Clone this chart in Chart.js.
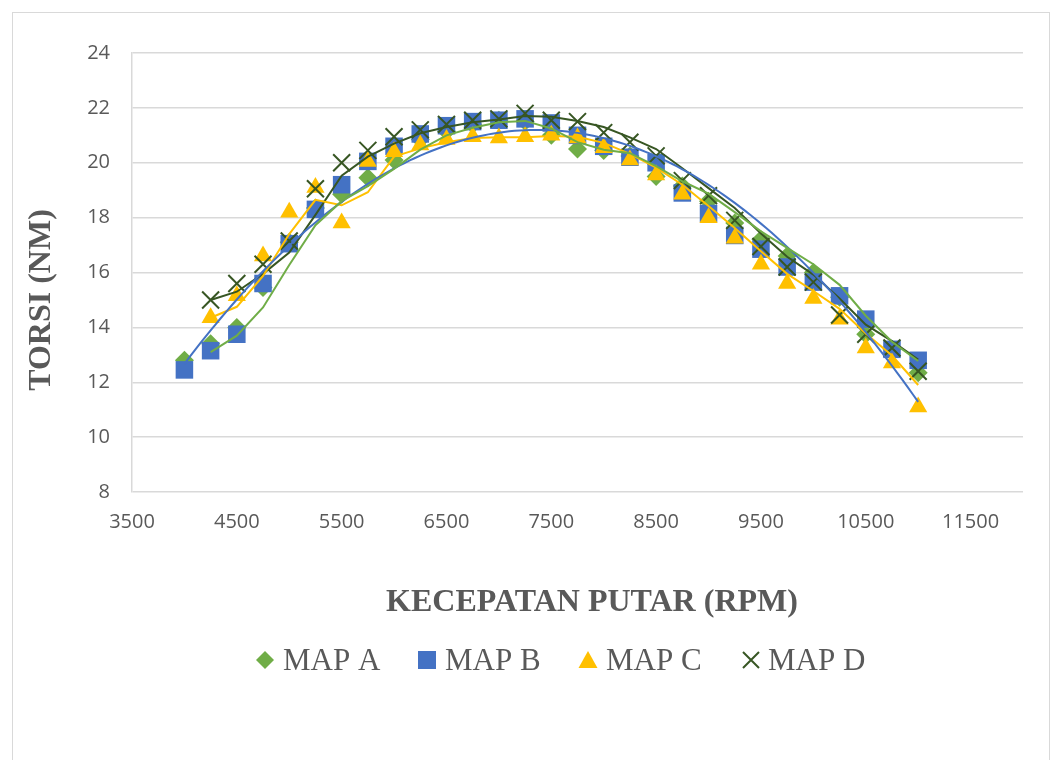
<!DOCTYPE html>
<html>
<head>
<meta charset="utf-8">
<title>Torsi vs Kecepatan Putar</title>
<script src="https://cdn.jsdelivr.net/npm/chart.js@4.4.0/dist/chart.umd.min.js"></script>
<style>
  html, body { margin: 0; padding: 0; background: #ffffff; }
  #wrap { width: 1062px; height: 760px; }
</style>
</head>
<body>
<div id="wrap"><canvas id="chart" width="1062" height="760"></canvas></div>
<script>
// Engine speed (rpm) and measured torque (N·m) for each ignition map
const rpm = [4000, 4250, 4500, 4750, 5000, 5250, 5500, 5750, 6000, 6250, 6500, 6750, 7000, 7250,
             7500, 7750, 8000, 8250, 8500, 8750, 9000, 9250, 9500, 9750, 10000, 10250, 10500, 10750, 11000];

const mapA = [12.8, 13.4, 14.0, 15.45, 17.1, 18.35, 18.85, 19.45, 20.1, 20.85, 21.15, 21.4, 21.55, 21.5,
              21.0, 20.5, 20.45, 20.25, 19.5, 19.15, 18.6, 17.8, 17.2, 16.6, 16.0, 15.1, 13.75, 13.2, 12.35];

const mapB = [12.45, 13.15, 13.75, 15.6, 17.05, 18.3, 19.2, 20.05, 20.6, 21.05, 21.35, 21.5, 21.55, 21.6,
              21.45, 21.0, 20.6, 20.2, 20.0, 18.9, 18.15, 17.35, 16.85, 16.2, 15.65, 15.15, 14.3, 13.2, 12.8];

const mapC = [null, 14.35, 15.15, 16.6, 18.2, 19.1, 17.8, 20.05, 20.4, 20.65, 20.85, 20.95, 20.9, 20.95,
              21.0, 20.9, 20.55, 20.1, 19.55, 18.85, 18.0, 17.25, 16.3, 15.6, 15.05, 14.3, 13.25, 12.7, 11.1];

const mapD = [null, 15.0, 15.6, 16.3, 17.15, 19.05, 20.0, 20.45, 20.95, 21.2, 21.4, 21.55, 21.6, 21.8,
              21.55, 21.5, 21.1, 20.75, 20.25, 19.35, 18.8, 17.9, 16.95, 16.2, 15.65, 14.45, 13.75, 13.25, 12.4];

const xTicks = [3500, 4500, 5500, 6500, 7500, 8500, 9500, 10500, 11500];
const yTicks = [8, 10, 12, 14, 16, 18, 20, 22, 24];

const seriesNames = ['MAP A', 'MAP B', 'MAP C', 'MAP D'];

// ---- helpers -------------------------------------------------------------
function toPoints(xs, ys) {
  const out = [];
  xs.forEach((x, i) => { if (ys[i] !== null) out.push({ x: x, y: ys[i] }); });
  return out;
}

// two-period moving average; blank cells are skipped inside the window
function movingAverage(xs, ys, period) {
  const out = [];
  for (let i = period - 1; i < xs.length; i++) {
    let s = 0, n = 0;
    for (let k = i - period + 1; k <= i; k++) {
      if (ys[k] !== null) { s += ys[k]; n++; }
    }
    if (n > 0) out.push({ x: xs[i], y: s / n });
  }
  return out;
}

// least-squares polynomial trend line
function polyTrend(xs, ys, order, step) {
  const px = [], py = [];
  xs.forEach((x, i) => { if (ys[i] !== null) { px.push(x); py.push(ys[i]); } });
  const c0 = (px[0] + px[px.length - 1]) / 2, sc = (px[px.length - 1] - px[0]) / 2;
  const n = order + 1;
  const A = [], b = [];
  for (let r = 0; r < n; r++) { A.push(new Array(n).fill(0)); b.push(0); }
  px.forEach((x, i) => {
    const t = (x - c0) / sc;
    for (let r = 0; r < n; r++) {
      b[r] += py[i] * Math.pow(t, r);
      for (let c = 0; c < n; c++) A[r][c] += Math.pow(t, r + c);
    }
  });
  for (let col = 0; col < n; col++) {
    let piv = col;
    for (let r = col + 1; r < n; r++) if (Math.abs(A[r][col]) > Math.abs(A[piv][col])) piv = r;
    [A[col], A[piv]] = [A[piv], A[col]]; [b[col], b[piv]] = [b[piv], b[col]];
    for (let r = 0; r < n; r++) {
      if (r === col) continue;
      const f = A[r][col] / A[col][col];
      for (let c = col; c < n; c++) A[r][c] -= f * A[col][c];
      b[r] -= f * b[col];
    }
  }
  const coef = b.map((v, i) => v / A[i][i]);
  const out = [];
  for (let x = px[0]; x <= px[px.length - 1] + 0.01; x += step) {
    const t = (x - c0) / sc;
    let y = 0;
    for (let k = 0; k < n; k++) y += coef[k] * Math.pow(t, k);
    out.push({ x: x, y: y });
  }
  return out;
}

// ---- colours & fonts -----------------------------------------------------
const green = '#70AD47', blue = '#4472C4', gold = '#FFC000', dark = '#375623';
const textGray = '#595959';
const gridGray = '#D9D9D9';
const serif = '"Liberation Serif", "Times New Roman", serif';

// frame, axis titles and legend
const decor = {
  id: 'decor',
  beforeDraw(chart) {
    const ctx = chart.ctx;
    ctx.save();
    ctx.fillStyle = '#ffffff';
    ctx.fillRect(0, 0, chart.width, chart.height);
    ctx.strokeStyle = gridGray;
    ctx.lineWidth = 1;
    ctx.strokeRect(12.5, 12.5, 1037, 800);
    ctx.restore();
  },
  afterDraw(chart) {
    const ctx = chart.ctx;
    ctx.save();
    ctx.fillStyle = textGray;
    ctx.font = 'bold 32px ' + serif;
    ctx.textAlign = 'center';
    ctx.textBaseline = 'alphabetic';
    ctx.fillText('KECEPATAN PUTAR (RPM)', 592, 611);

    ctx.save();
    ctx.translate(50, 300);
    ctx.rotate(-Math.PI / 2);
    ctx.fillText('TORSI (NM)', 0, 0);
    ctx.restore();

    // legend
    const items = [
      { name: seriesNames[0], mx: 265, tx: 283, draw: (x, y) => { ctx.fillStyle = green; ctx.beginPath(); ctx.moveTo(x - 9, y); ctx.lineTo(x, y - 9); ctx.lineTo(x + 9, y); ctx.lineTo(x, y + 9); ctx.closePath(); ctx.fill(); } },
      { name: seriesNames[1], mx: 427, tx: 445, draw: (x, y) => { ctx.fillStyle = blue; ctx.fillRect(x - 9, y - 9, 18, 18); } },
      { name: seriesNames[2], mx: 588, tx: 606, draw: (x, y) => { ctx.fillStyle = gold; ctx.beginPath(); ctx.moveTo(x, y - 9); ctx.lineTo(x + 9.5, y + 8); ctx.lineTo(x - 9.5, y + 8); ctx.closePath(); ctx.fill(); } },
      { name: seriesNames[3], mx: 751, tx: 768, draw: (x, y) => { ctx.strokeStyle = dark; ctx.lineWidth = 2; ctx.beginPath(); ctx.moveTo(x - 8, y - 8); ctx.lineTo(x + 8, y + 8); ctx.moveTo(x + 8, y - 8); ctx.lineTo(x - 8, y + 8); ctx.stroke(); } }
    ];
    ctx.font = '31px ' + serif;
    ctx.textAlign = 'left';
    items.forEach(it => {
      it.draw(it.mx, 660);
      ctx.fillStyle = textGray;
      ctx.fillText(it.name, it.tx, 670);
    });
    ctx.restore();
  }
};

const tickFont = { family: '"Open Sans", "Liberation Sans", sans-serif', size: 20 };

new Chart(document.getElementById('chart'), {
  type: 'scatter',
  data: {
    datasets: [
      { label: 'Trend ' + seriesNames[0], data: movingAverage(rpm, mapA, 2), showLine: true, borderColor: green, borderWidth: 2, pointRadius: 0, fill: false, order: 0 },
      { label: 'Trend ' + seriesNames[1], data: polyTrend(rpm, mapB, 2, 50), showLine: true, borderColor: blue, borderWidth: 2, pointRadius: 0, fill: false, order: 1 },
      { label: 'Trend ' + seriesNames[2], data: movingAverage(rpm, mapC, 2), showLine: true, borderColor: gold, borderWidth: 2, pointRadius: 0, fill: false, order: 2 },
      { label: 'Trend ' + seriesNames[3], data: movingAverage(rpm, mapD, 2), showLine: true, borderColor: dark, borderWidth: 2, pointRadius: 0, fill: false, order: 3 },
      { label: seriesNames[3], data: toPoints(rpm, mapD), pointStyle: 'crossRot', pointRadius: 12, borderColor: dark, backgroundColor: dark, borderWidth: 2, order: 4 },
      { label: seriesNames[2], data: toPoints(rpm, mapC), pointStyle: 'triangle', pointRadius: 10.5, borderColor: gold, backgroundColor: gold, borderWidth: 0, order: 5 },
      { label: seriesNames[1], data: toPoints(rpm, mapB), pointStyle: 'rect', pointRadius: 12.4, borderColor: blue, backgroundColor: blue, borderWidth: 0, order: 6 },
      { label: seriesNames[0], data: toPoints(rpm, mapA), pointStyle: 'rectRot', pointRadius: 9.5, borderColor: green, backgroundColor: green, borderWidth: 0, order: 7 }
    ]
  },
  options: {
    responsive: false,
    animation: false,
    devicePixelRatio: 1,
    layout: { padding: { left: 0, top: 53, right: 39, bottom: 0 } },
    plugins: { legend: { display: false }, tooltip: { enabled: false } },
    elements: { line: { tension: 0 } },
    scales: {
      x: {
        type: 'linear', min: 3500, max: 12000,
        afterBuildTicks: s => { s.ticks = xTicks.map(v => ({ value: v })); },
        afterFit: s => { s.height = 268; },
        grid: { display: false, drawTicks: false },
        border: { display: false },
        ticks: { font: tickFont, color: textGray, padding: 18, maxRotation: 0, autoSkip: false, callback: v => String(v) }
      },
      y: {
        type: 'linear', min: 8, max: 24,
        afterBuildTicks: s => { s.ticks = yTicks.map(v => ({ value: v })); },
        afterFit: s => { s.width = 132; },
        grid: { color: gridGray, lineWidth: 1.5, drawTicks: false },
        border: { display: true, color: gridGray, width: 1.5 },
        ticks: { font: tickFont, color: textGray, padding: 22, callback: v => String(v) }
      }
    }
  },
  plugins: [decor]
});
</script>
</body>
</html>
